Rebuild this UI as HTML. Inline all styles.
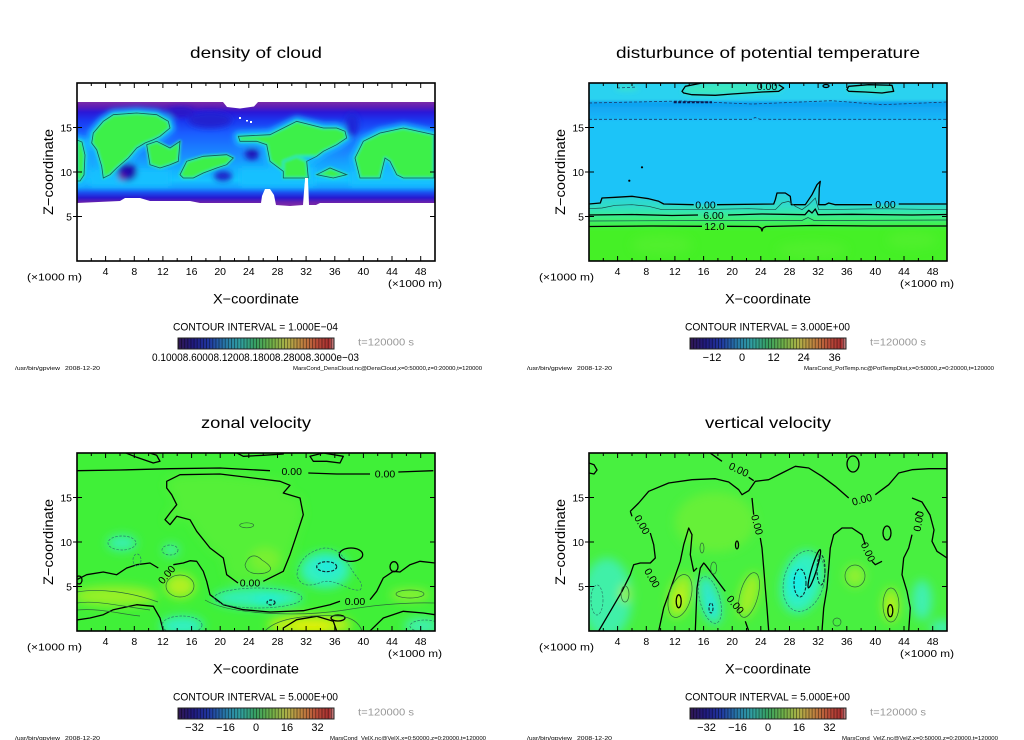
<!DOCTYPE html>
<html><head><meta charset="utf-8">
<style>
html,body{margin:0;padding:0;background:#fff;}
svg{display:block;}
text{font-family:"Liberation Sans",sans-serif;fill:#000;}
</style></head><body>
<svg width="1024" height="740" viewBox="0 0 1024 740" xmlns="http://www.w3.org/2000/svg">
<defs>
 <clipPath id="pc"><rect x="77" y="83" width="358" height="178"/></clipPath>
 <clipPath id="bandclip"><path d="M77,102 H223 L227,107 L240,108.5 L254,106.5 L258,102 H435 V203 H320 L316,205 H309 L308,178 L305,178 L303,205 L290,206 L276,205 L274,195 L270,189 L265,189 L262,196 L261,203 H200 L190,201 L150,201 L140,198 L125,198 L120,201 L77,203 Z"/></clipPath>
 <filter id="b1" filterUnits="userSpaceOnUse" x="-100" y="-100" width="700" height="500"><feGaussianBlur stdDeviation="1.2"/></filter>
 <filter id="b3" filterUnits="userSpaceOnUse" x="-100" y="-100" width="700" height="500"><feGaussianBlur stdDeviation="3"/></filter>
 <filter id="b5" filterUnits="userSpaceOnUse" x="-100" y="-100" width="700" height="500"><feGaussianBlur stdDeviation="5"/></filter>
 <filter id="b7" filterUnits="userSpaceOnUse" x="-100" y="-100" width="700" height="500"><feGaussianBlur stdDeviation="7"/></filter>
 <linearGradient id="band" gradientUnits="userSpaceOnUse" x1="0" y1="102" x2="0" y2="205">
  <stop offset="0" stop-color="#7a2aa8"/>
  <stop offset="0.05" stop-color="#5a1cb8"/>
  <stop offset="0.1" stop-color="#2a18d8"/>
  <stop offset="0.18" stop-color="#1a38f0"/>
  <stop offset="0.3" stop-color="#1a5cff"/>
  <stop offset="0.5" stop-color="#1a88ff"/>
  <stop offset="0.62" stop-color="#14a8ff"/>
  <stop offset="0.76" stop-color="#16c4ff"/>
  <stop offset="0.83" stop-color="#14a0ff"/>
  <stop offset="0.88" stop-color="#1a50f0"/>
  <stop offset="0.93" stop-color="#2818d0"/>
  <stop offset="0.97" stop-color="#6420b0"/>
  <stop offset="1" stop-color="#7a2aa8"/>
 </linearGradient>
 <linearGradient id="trband" gradientUnits="userSpaceOnUse" x1="0" y1="101" x2="0" y2="120">
  <stop offset="0" stop-color="#0e9ef0"/>
  <stop offset="1" stop-color="#1ab8f8"/>
 </linearGradient>
 <linearGradient id="trlow" gradientUnits="userSpaceOnUse" x1="0" y1="193" x2="0" y2="230">
  <stop offset="0" stop-color="#28d0e0"/>
  <stop offset="0.35" stop-color="#30dcc8"/>
  <stop offset="0.5" stop-color="#34e6b0"/>
  <stop offset="0.65" stop-color="#3cee88"/>
  <stop offset="0.85" stop-color="#40f050"/>
  <stop offset="1" stop-color="#44f028"/>
 </linearGradient>
 <linearGradient id="cbg" x1="0" x2="1" y1="0" y2="0">
  <stop offset="0" stop-color="#301850"/>
  <stop offset="0.1" stop-color="#201a80"/>
  <stop offset="0.2" stop-color="#2038a0"/>
  <stop offset="0.3" stop-color="#2878a8"/>
  <stop offset="0.4" stop-color="#30a0a0"/>
  <stop offset="0.5" stop-color="#38a060"/>
  <stop offset="0.6" stop-color="#70b048"/>
  <stop offset="0.7" stop-color="#b0b048"/>
  <stop offset="0.8" stop-color="#c08040"/>
  <stop offset="0.9" stop-color="#b84838"/>
  <stop offset="0.97" stop-color="#a83030"/>
  <stop offset="1" stop-color="#c89090"/>
 </linearGradient>
 <pattern id="stp" x="178" y="0" width="3.12" height="20" patternUnits="userSpaceOnUse">
  <rect x="0" y="0" width="0.9" height="20" fill="#000" opacity="0.45"/>
 </pattern>
 <g id="frame" fill="none" stroke="#000">
  <rect x="77" y="83" width="358" height="178" stroke-width="1.6"/>
  <path stroke-width="1" d="M105.6,261v-5M134.3,261v-5M162.9,261v-5M191.6,261v-5M220.2,261v-5M248.8,261v-5M277.5,261v-5M306.1,261v-5M334.8,261v-5M363.4,261v-5M392,261v-5M420.7,261v-5
  M105.6,83v5M134.3,83v5M162.9,83v5M191.6,83v5M220.2,83v5M248.8,83v5M277.5,83v5M306.1,83v5M334.8,83v5M363.4,83v5M392,83v5M420.7,83v5
  M91.3,261v-3M120,261v-3M148.6,261v-3M177.2,261v-3M205.9,261v-3M234.5,261v-3M263.2,261v-3M291.8,261v-3M320.4,261v-3M349.1,261v-3M377.7,261v-3M406.4,261v-3
  M91.3,83v3M120,83v3M148.6,83v3M177.2,83v3M205.9,83v3M234.5,83v3M263.2,83v3M291.8,83v3M320.4,83v3M349.1,83v3M377.7,83v3M406.4,83v3
  M73,216.5h9M73,172h9M73,127.5h9M435,216.5h-5M435,172h-5M435,127.5h-5"/>
 </g>
 <g id="cb">
  <rect x="178" y="338" width="156" height="11" fill="url(#cbg)"/>
  <rect x="178" y="338" width="156" height="11" fill="url(#stp)"/>
  <rect x="178" y="338" width="156" height="11" fill="none" stroke="#222" stroke-width="1"/>
 </g>
</defs>

<rect width="1024" height="740" fill="#fff"/>

<!-- ================= TOP LEFT: density of cloud ================= -->
<g>
 <g clip-path="url(#pc)">
  <rect x="77" y="83" width="358" height="178" fill="#fff"/>
  <path d="M77,102 H223 L227,107 L240,108.5 L254,106.5 L258,102 H435 V203 H320 L316,205 H309 L308,178 L305,178 L303,205 L290,206 L276,205 L274,195 L270,189 L265,189 L262,196 L261,203 H200 L190,201 L150,201 L140,198 L125,198 L120,201 L77,203 Z" fill="url(#band)"/>
  <g clip-path="url(#bandclip)">
   <g filter="url(#b3)">
    <g fill="#18b8ff" stroke="#18b8ff" stroke-width="10" stroke-linejoin="round">
     <polygon points="77,140 82,142 85,155 84,175 80,181 77,181"/>
     <polygon points="91.7,143 93.3,133 103.3,121.3 113.3,114.7 136.7,113 156.7,114.7 168.3,121.3 170,128 160,136.3 153.3,139.7 145,143 136.7,148 128.3,158 116.7,168 110,174.7 103.3,178 101.7,166.3 96.7,149.7"/>
     <polygon points="238.3,136.3 270,134.7 296.7,121.3 323.3,128 336.7,128 345,131.3 346.7,138 336.7,144.7 323.3,151.3 316.7,156.3 306.7,161.3 308.3,178 283.3,178 283.3,171.3 270,161.3 266.7,144.7 256.7,141.3 240,141.3"/>
     <polygon points="355,158 363.3,141.3 380,133 403.3,128 434,134.7 434,178 403.3,178 396.7,174.7 390,161.3 385,158 380,178 360,178"/>
    </g>
    <rect x="90" y="170" width="80" height="16" fill="#16c0ff"/>
    <rect x="240" y="168" width="75" height="18" fill="#16c0ff"/>
    <rect x="350" y="172" width="85" height="14" fill="#16c0ff"/>
    <ellipse cx="127" cy="172" rx="10" ry="9" fill="#1a10b0"/>
    <ellipse cx="122" cy="177" rx="3.5" ry="3.5" fill="#7020a0"/>
    <ellipse cx="252" cy="154" rx="7" ry="6" fill="#1a14b8"/>
    <ellipse cx="223" cy="176" rx="9" ry="5" fill="#1a20c8"/>
    <ellipse cx="210" cy="120" rx="22" ry="8" fill="#2020d0"/>
    <ellipse cx="352" cy="125" rx="7" ry="12" fill="#1a28d8"/>
    <ellipse cx="180" cy="112" rx="14" ry="5" fill="#2a18c8"/>
   </g>
   <g filter="url(#b1)" fill="#3cf048" stroke="#2ae6b8" stroke-width="2.5" stroke-linejoin="round">
    <polygon points="77,140 82,142 85,155 84,175 80,181 77,181"/>
    <polygon points="91.7,143 93.3,133 103.3,121.3 113.3,114.7 136.7,113 156.7,114.7 168.3,121.3 170,128 160,136.3 153.3,139.7 145,143 136.7,148 128.3,158 116.7,168 110,174.7 103.3,178 101.7,166.3 96.7,149.7"/>
    <polygon points="146.7,144.7 156.7,141.3 170,148 180,141.3 178.3,161.3 170,164.7 160,168 150,164.7 148.3,154.7"/>
    <polygon points="180,174.7 186.7,161.3 203.3,156.3 226.7,154.7 233.3,158 226.7,164.7 216.7,168 203.3,173 193.3,178 183.3,178"/>
    <polygon points="238.3,136.3 270,134.7 296.7,121.3 323.3,128 336.7,128 345,131.3 346.7,138 336.7,144.7 323.3,151.3 316.7,156.3 300,156.3 290,161.3 283.3,171.3 270,161.3 266.7,144.7 256.7,141.3 240,141.3"/>
    <polygon points="283.3,161.3 296.7,156.3 306.7,161.3 308.3,178 283.3,178"/>
    <polygon points="316.7,174.7 330,168 346.7,174.7 333.3,178"/>
    <polygon points="355,158 363.3,141.3 380,133 403.3,128 434,134.7 434,178 403.3,178 396.7,174.7 390,161.3 385,158 380,178 360,178"/>
   </g>
   <g fill="none" stroke="#145a5a" stroke-width="0.8">
    <polygon points="77,140 82,142 85,155 84,175 80,181 77,181"/>
    <polygon points="91.7,143 93.3,133 103.3,121.3 113.3,114.7 136.7,113 156.7,114.7 168.3,121.3 170,128 160,136.3 153.3,139.7 145,143 136.7,148 128.3,158 116.7,168 110,174.7 103.3,178 101.7,166.3 96.7,149.7"/>
    <polygon points="146.7,144.7 156.7,141.3 170,148 180,141.3 178.3,161.3 170,164.7 160,168 150,164.7 148.3,154.7"/>
    <polygon points="180,174.7 186.7,161.3 203.3,156.3 226.7,154.7 233.3,158 226.7,164.7 216.7,168 203.3,173 193.3,178 183.3,178"/>
    <polygon points="238.3,136.3 270,134.7 296.7,121.3 323.3,128 336.7,128 345,131.3 346.7,138 336.7,144.7 323.3,151.3 316.7,156.3 306.7,161.3 308.3,178 283.3,178 283.3,171.3 270,161.3 266.7,144.7 256.7,141.3 240,141.3"/>
    <polygon points="316.7,174.7 330,168 346.7,174.7 333.3,178"/>
    <polygon points="355,158 363.3,141.3 380,133 403.3,128 434,134.7 434,178 403.3,178 396.7,174.7 390,161.3 385,158 380,178 360,178"/>
   </g>
   <g fill="#fff"><rect x="239" y="117" width="2" height="2"/><rect x="246" y="120" width="2" height="1.5"/><rect x="250" y="121" width="2" height="2"/></g>
  </g>
 </g>
 <use href="#frame"/>
 <text x="256" y="58" font-size="16" text-anchor="middle" textLength="132" lengthAdjust="spacingAndGlyphs">density of cloud</text>
 <g font-size="10.5" text-anchor="middle">
  <text x="105.6" y="275">4</text><text x="134.3" y="275">8</text><text x="162.9" y="275">12</text><text x="191.6" y="275">16</text><text x="220.2" y="275">20</text><text x="248.8" y="275">24</text><text x="277.5" y="275">28</text><text x="306.1" y="275">32</text><text x="334.8" y="275">36</text><text x="363.4" y="275">40</text><text x="392" y="275">44</text><text x="420.7" y="275">48</text>
 </g>
 <g font-size="10.5" text-anchor="end">
  <text x="72" y="131.5">15</text><text x="72" y="176">10</text><text x="72" y="220.5">5</text>
 </g>
 <text x="27" y="280.5" font-size="10.5" textLength="55" lengthAdjust="spacingAndGlyphs">(×1000 m)</text>
 <text x="388" y="287" font-size="10.5" textLength="54" lengthAdjust="spacingAndGlyphs">(×1000 m)</text>
 <text x="256" y="303.5" font-size="13.5" text-anchor="middle" textLength="86" lengthAdjust="spacingAndGlyphs">X−coordinate</text>
 <text transform="translate(53,172) rotate(-90)" font-size="13.5" text-anchor="middle" textLength="86" lengthAdjust="spacingAndGlyphs">Z−coordinate</text>
 <text x="173" y="330.5" font-size="11" textLength="165" lengthAdjust="spacingAndGlyphs">CONTOUR INTERVAL = 1.000E−04</text>
 <use href="#cb"/>
 <text x="358" y="345.5" font-size="10.5" fill="#999" style="fill:#999" textLength="56" lengthAdjust="spacingAndGlyphs">t=120000 s</text>
 <text x="152" y="361" font-size="11" textLength="207" lengthAdjust="spacingAndGlyphs">0.10008.60008.12008.18008.28008.3000e−03</text>
 <text x="15" y="370" font-size="5.5" textLength="45" lengthAdjust="spacingAndGlyphs">/usr/bin/gpview</text>
 <text x="65" y="370" font-size="5.5" textLength="35" lengthAdjust="spacingAndGlyphs">2008-12-20</text>
 <text x="293" y="370" font-size="5.5" textLength="189" lengthAdjust="spacingAndGlyphs">MarsCond_DensCloud.nc@DensCloud,x=0:50000,z=0:20000,t=120000</text>
</g>

<!-- ================= TOP RIGHT: potential temperature ================= -->
<g transform="translate(512,0)">
 <g clip-path="url(#pc)">
  <g filter="url(#b1)">
   <rect x="70" y="80" width="370" height="185" fill="#1ec4f8"/>
   <rect x="70" y="80" width="370" height="22" fill="#2cd2f0"/>
   <rect x="70" y="101" width="370" height="19" fill="url(#trband)"/>
  </g>
  <g filter="url(#b3)">
   <polygon points="170,91.3 173.3,86.3 190,83 220,82 243.3,83 266.7,84.7 271.7,88 266.7,91.3 250,92 220,94 203.3,95.3 180,94.7 171.7,93" fill="#3ae8c0"/>
   <polygon points="335,89.7 336.7,86.3 356.7,84.7 380,85.3 381.7,91.3 370,93 353.3,92 336.7,91.3" fill="#3ae8c0"/>
   <ellipse cx="115" cy="88" rx="12" ry="3" fill="#38e0d0"/>
  </g>
  <path filter="url(#b1)" d="M70,204 L88.3,203 L90,198 L103.3,197.3 L120,196.3 L136.7,198.7 L146.7,201.3 L151.7,204 L261.7,204 L263.3,199.7 L265,193 L273.3,193 L278.3,196.3 L279.3,204.7 L293.3,204.7 L300,194.7 L305,184.7 L308.3,181.3 L307.3,188 L306.7,204.7 L313.3,204.7 L316.7,203 L323.3,204.7 L440,204 L440,265 L70,265 Z" fill="url(#trlow)"/>
  <g filter="url(#b5)" opacity="0.6">
   <ellipse cx="150" cy="245" rx="30" ry="10" fill="#58f030"/>
   <ellipse cx="300" cy="250" rx="35" ry="8" fill="#58f030"/>
   <ellipse cx="400" cy="240" rx="25" ry="8" fill="#58f030"/>
  </g>
  <g fill="none" stroke="#000" stroke-width="1.3" stroke-linejoin="round">
   <polyline points="243.3,83 220,82 190,83 173.3,86.3 170,91.3 171.7,93 180,94.7 203.3,95.3 220,94 250,92 266.7,91.3 271.7,88 266.7,84.7"/>
   <polygon points="335,89.7 336.7,86.3 356.7,84.7 380,85.3 381.7,91.3 370,93 353.3,92 336.7,91.3"/>
   <ellipse cx="314" cy="86" rx="3" ry="1.5"/>
   <polyline points="76.7,204 88.3,203 90,198 103.3,197.3 120,196.3 136.7,198.7 146.7,201.3 151.7,204 181.7,204.7"/>
   <polyline points="205,204.7 261.7,204 263.3,199.7 265,193 273.3,193 278.3,196.3 279.3,204.7 293.3,204.7 300,194.7 305,184.7 308.3,181.3 307.3,188 306.7,204.7 313.3,204.7 316.7,203 323.3,204.7 360,204.7"/>
   <polyline points="386.7,204 435,204"/>
   <path d="M77,215 L120,214.5 L160,215.5 L186,215 M216,215 L250,214 L293,214.7 L296.7,210.3 L300,213 L303.3,209 L306,214.7 L340,214.3 L400,215 L435,214.5"/>
   <path d="M77,226.5 L140,226 L190,226.3 M215,226.3 L246,226.5 L249,228 L250,231 L251,228 L254,226.5 L300,225.5 L360,226 L435,226"/>
  </g>
  <g fill="none" stroke="#1a4a4a" stroke-width="0.7">
   <polyline points="76.7,208.7 90,208 103.3,205.3 120,204.7 136.7,206.3 150,209.7 180,209.7 236.7,208.7 263.3,209.7 270,203 276.7,201.3 283.3,206.3 290,209.7 296.7,204.7 303.3,198 306.7,209.7 370,208.7 435,209.7"/>
   <path d="M77,221 L200,220.5 L290,220.5 L296,217.5 L302,220.5 L435,220"/>
  </g>
  <g fill="none" stroke="#1a3a6a" stroke-width="0.8" stroke-dasharray="3,2">
   <path d="M77,103 L170,101 L240,104 L320,100.7 L370,104.7 L435,102"/>
   <path d="M77,119.3 L240,119.3 L243,117.5 L248,119.3 L435,119.3"/>
   <path d="M105,88 L125,87"/>
  </g>
  <path d="M161.7,102.3 L200,102.3" stroke="#0a1850" stroke-width="2" stroke-dasharray="3,1.5" fill="none"/>
  <circle cx="130" cy="167.3" r="1.1" fill="#000"/>
  <circle cx="117.3" cy="180.7" r="1.1" fill="#000"/>
  <g font-size="10.5" text-anchor="middle">
   <text x="193.5" y="208.5">0.00</text>
   <text x="373.5" y="208">0.00</text>
   <text x="201.5" y="219">6.00</text>
   <text x="202.5" y="230">12.0</text>
   <text x="255" y="90">0.00</text>
  </g>
 </g>
 <use href="#frame"/>
 <text x="256" y="58" font-size="16" text-anchor="middle" textLength="304" lengthAdjust="spacingAndGlyphs">disturbunce of potential temperature</text>
 <g font-size="10.5" text-anchor="middle">
  <text x="105.6" y="275">4</text><text x="134.3" y="275">8</text><text x="162.9" y="275">12</text><text x="191.6" y="275">16</text><text x="220.2" y="275">20</text><text x="248.8" y="275">24</text><text x="277.5" y="275">28</text><text x="306.1" y="275">32</text><text x="334.8" y="275">36</text><text x="363.4" y="275">40</text><text x="392" y="275">44</text><text x="420.7" y="275">48</text>
 </g>
 <g font-size="10.5" text-anchor="end">
  <text x="72" y="131.5">15</text><text x="72" y="176">10</text><text x="72" y="220.5">5</text>
 </g>
 <text x="27" y="280.5" font-size="10.5" textLength="55" lengthAdjust="spacingAndGlyphs">(×1000 m)</text>
 <text x="388" y="287" font-size="10.5" textLength="54" lengthAdjust="spacingAndGlyphs">(×1000 m)</text>
 <text x="256" y="303.5" font-size="13.5" text-anchor="middle" textLength="86" lengthAdjust="spacingAndGlyphs">X−coordinate</text>
 <text transform="translate(53,172) rotate(-90)" font-size="13.5" text-anchor="middle" textLength="86" lengthAdjust="spacingAndGlyphs">Z−coordinate</text>
 <text x="173" y="330.5" font-size="11" textLength="165" lengthAdjust="spacingAndGlyphs">CONTOUR INTERVAL = 3.000E+00</text>
 <use href="#cb"/>
 <text x="358" y="345.5" font-size="10.5" style="fill:#999" textLength="56" lengthAdjust="spacingAndGlyphs">t=120000 s</text>
 <g font-size="11" text-anchor="middle">
  <text x="200" y="361">−12</text><text x="230" y="361">0</text><text x="261.7" y="361">12</text><text x="291.7" y="361">24</text><text x="322.7" y="361">36</text>
 </g>
 <text x="15" y="370" font-size="5.5" textLength="45" lengthAdjust="spacingAndGlyphs">/usr/bin/gpview</text>
 <text x="65" y="370" font-size="5.5" textLength="35" lengthAdjust="spacingAndGlyphs">2008-12-20</text>
 <text x="292" y="370" font-size="5.5" textLength="190" lengthAdjust="spacingAndGlyphs">MarsCond_PotTemp.nc@PotTempDist,x=0:50000,z=0:20000,t=120000</text>
</g>

<!-- ================= BOTTOM LEFT: zonal velocity ================= -->
<g transform="translate(0,370)">
 <g clip-path="url(#pc)">
  <rect x="70" y="80" width="370" height="185" fill="#40f038"/>
  <g filter="url(#b5)">
   <polygon points="166.7,111.3 180,104.7 220,104 280,111.3 290,115.3 283.3,123 300,128 303.3,144.7 296.7,164.7 290,184.7 283.3,201.3 263.3,211.3 236.7,213 226.7,204.7 223.3,188 210,178 196.7,161.3 190,149.7 176.7,146.3 170,154.7 165,149.7 170,143 176.7,134.7 171.7,124.7 166.7,118" fill="#54f038"/>
   <ellipse cx="122" cy="173" rx="15" ry="8" fill="#38f0b0"/>
   <ellipse cx="171" cy="180" rx="8" ry="6" fill="#40f0b0"/>
   <ellipse cx="258" cy="228" rx="45" ry="10" fill="#30f0b8"/>
   <ellipse cx="268" cy="230" rx="15" ry="5" fill="#22eed8"/>
   <ellipse cx="325" cy="200" rx="25" ry="18" fill="#30f0c0"/>
   <ellipse cx="327" cy="196" rx="10" ry="6" fill="#18e8e4"/>
   <ellipse cx="182" cy="256" rx="22" ry="10" fill="#30f0c0"/>
   <ellipse cx="422" cy="256" rx="18" ry="8" fill="#40f0b0"/>
   <ellipse cx="115" cy="226" rx="42" ry="10" fill="#98f028"/>
   <ellipse cx="180" cy="216" rx="15" ry="12" fill="#b0f020"/>
   <ellipse cx="310" cy="255" rx="42" ry="10" fill="#c0f018"/>
   <ellipse cx="312" cy="258" rx="20" ry="6" fill="#e4f000"/>
   <ellipse cx="265" cy="190" rx="15" ry="12" fill="#78f030"/>
   <ellipse cx="410" cy="225" rx="20" ry="6" fill="#90f030"/>
  </g>
  <g fill="none" stroke="#000" stroke-width="1.3" stroke-linejoin="round">
   <polyline points="76.7,100.7 120,100 170,98.7 220,98 270,100.7"/>
   <polyline points="308.3,103 336.7,104 370,104"/>
   <polyline points="398.3,102 433.3,100.7"/>
   <polyline points="123.3,82 136.7,87.3 153.3,93 160,91.3 156.7,85.3 146.7,82"/>
   <polyline points="235,82 243.3,86.3 263.3,85.3 283.3,84 283.3,82"/>
   <polygon points="310,86.3 323.3,83 343.3,86.3 340,93 326.7,91.3 313.3,91.3"/>
   <polyline points="263.3,211.3 283.3,201.3 290,184.7 296.7,164.7 303.3,144.7 300,128 283.3,123 290,115.3 280,111.3 220,104 180,104.7 166.7,111.3 166.7,118 171.7,124.7 176.7,134.7 170,143 165,149.7 170,154.7 176.7,146.3 190,149.7 196.7,161.3 210,178 223.3,188 226.7,204.7 238,213"/>
   <polyline points="76.7,209.7 86.7,204.7 103.3,202 116.7,204.7 126.7,198 136.7,194.7 150,193 158.3,198"/>
   <polyline points="173.3,194.7 183.3,193 190,190.7 196.7,191.3 203.3,201.3 206.7,211.3 210,224.7 223.3,234.7 243.3,239.7 270,242 303.3,240.7 330,234.7 340,231.3"/>
   <polyline points="370,229.7 376.7,221.3 383.3,208 393.3,201.3 400,202 410,194.7 420,191.3 435,193"/>
   <polyline points="76.7,250 90,248 103.3,244.7 113.3,239.7 136.7,234.7 153.3,236.3 160,248 163.3,261"/>
   <polyline points="283.3,261 283.3,258 296.7,249.7 316.7,246.3 333.3,251.3 336.7,261"/>
   <ellipse cx="338" cy="248" rx="7" ry="3"/>
   <polyline points="370,261 383.3,248 403.3,241.3 423.3,243 435,244.7"/>
   <ellipse cx="351" cy="184.7" rx="11.7" ry="6.7"/>
   <ellipse cx="394" cy="196.7" rx="4" ry="5"/>
   <ellipse cx="79" cy="210" rx="3" ry="4"/>
  </g>
  <g fill="none" stroke="#102830" stroke-width="1.2" stroke-dasharray="3,1.5">
   <ellipse cx="326.7" cy="196.7" rx="10" ry="5"/>
   <ellipse cx="271" cy="232.5" rx="4" ry="2.5"/>
  </g>
  <g fill="none" stroke="#2a6a3a" stroke-width="0.7">
   <path d="M77,222 C100,218 130,222 158,232"/>
   <path d="M77,233 C95,230 120,236 150,240"/>
   <path d="M77,240 C100,238 120,244 140,246"/>
   <ellipse cx="180" cy="216" rx="14" ry="11"/>
   <path d="M265,261 C275,250 300,244 340,246 C355,248 360,255 362,261"/>
   <path d="M205,230 C230,245 300,247 345,240 C370,236 400,232 435,233"/>
   <ellipse cx="410" cy="224" rx="14" ry="4"/>
   <ellipse cx="246.7" cy="155.3" rx="7" ry="2.5"/>
   <path d="M245,195 C248,185 255,183 262,190 C270,195 275,200 265,203 C255,205 246,203 245,195 Z"/>
  </g>
  <g fill="none" stroke="#2a7a6a" stroke-width="0.7" stroke-dasharray="2.5,1.5">
   <ellipse cx="122" cy="173" rx="14" ry="7"/>
   <ellipse cx="170" cy="180" rx="8" ry="5"/>
   <ellipse cx="137" cy="190" rx="4" ry="6"/>
   <ellipse cx="258" cy="228" rx="44" ry="10"/>
   <path d="M297,205 C298,190 310,180 325,178 C340,178 345,190 352,200 C358,210 365,214 360,220 C350,222 335,208 322,212 C312,216 300,218 297,205 Z"/>
   <ellipse cx="182" cy="255" rx="20" ry="9"/>
   <ellipse cx="425" cy="256" rx="15" ry="6"/>
  </g>
  <g font-size="10.5" text-anchor="middle">
   <text x="291.7" y="105">0.00</text>
   <text x="385" y="107.5">0.00</text>
   <text x="250" y="216.5">0.00</text>
   <text x="355" y="235">0.00</text>
   <text transform="translate(166.7,204.7) rotate(-50)" y="3.5">0.00</text>
  </g>
 </g>
 <use href="#frame"/>
 <text x="256" y="58" font-size="16" text-anchor="middle" textLength="110" lengthAdjust="spacingAndGlyphs">zonal velocity</text>
 <g font-size="10.5" text-anchor="middle">
  <text x="105.6" y="275">4</text><text x="134.3" y="275">8</text><text x="162.9" y="275">12</text><text x="191.6" y="275">16</text><text x="220.2" y="275">20</text><text x="248.8" y="275">24</text><text x="277.5" y="275">28</text><text x="306.1" y="275">32</text><text x="334.8" y="275">36</text><text x="363.4" y="275">40</text><text x="392" y="275">44</text><text x="420.7" y="275">48</text>
 </g>
 <g font-size="10.5" text-anchor="end">
  <text x="72" y="131.5">15</text><text x="72" y="176">10</text><text x="72" y="220.5">5</text>
 </g>
 <text x="27" y="280.5" font-size="10.5" textLength="55" lengthAdjust="spacingAndGlyphs">(×1000 m)</text>
 <text x="388" y="287" font-size="10.5" textLength="54" lengthAdjust="spacingAndGlyphs">(×1000 m)</text>
 <text x="256" y="303.5" font-size="13.5" text-anchor="middle" textLength="86" lengthAdjust="spacingAndGlyphs">X−coordinate</text>
 <text transform="translate(53,172) rotate(-90)" font-size="13.5" text-anchor="middle" textLength="86" lengthAdjust="spacingAndGlyphs">Z−coordinate</text>
 <text x="173" y="330.5" font-size="11" textLength="165" lengthAdjust="spacingAndGlyphs">CONTOUR INTERVAL = 5.000E+00</text>
 <use href="#cb"/>
 <text x="358" y="345.5" font-size="10.5" style="fill:#999" textLength="56" lengthAdjust="spacingAndGlyphs">t=120000 s</text>
 <g font-size="11" text-anchor="middle">
  <text x="194.5" y="361">−32</text><text x="225.5" y="361">−16</text><text x="256" y="361">0</text><text x="287" y="361">16</text><text x="317.5" y="361">32</text>
 </g>
 <text x="15" y="370" font-size="5.5" textLength="45" lengthAdjust="spacingAndGlyphs">/usr/bin/gpview</text>
 <text x="65" y="370" font-size="5.5" textLength="35" lengthAdjust="spacingAndGlyphs">2008-12-20</text>
 <text x="330" y="370" font-size="5.5" textLength="156" lengthAdjust="spacingAndGlyphs">MarsCond_VelX.nc@VelX,x=0:50000,z=0:20000,t=120000</text>
</g>

<!-- ================= BOTTOM RIGHT: vertical velocity ================= -->
<g transform="translate(512,370)">
 <g clip-path="url(#pc)">
  <rect x="70" y="80" width="370" height="185" fill="#48f040"/>
  <g filter="url(#b5)">
   <ellipse cx="203" cy="152" rx="40" ry="30" fill="#66f038"/>
   <ellipse cx="95" cy="228" rx="25" ry="40" fill="#40f0a8"/>
   <ellipse cx="113" cy="224" rx="5" ry="9" fill="#a0f028"/>
   <ellipse cx="168" cy="226" rx="11" ry="22" transform="rotate(15 168 226)" fill="#a0f028"/>
   <ellipse cx="167" cy="230" rx="5" ry="10" fill="#c8f018"/>
   <ellipse cx="198" cy="230" rx="10" ry="25" transform="rotate(-15 198 230)" fill="#30e8c8"/>
   <ellipse cx="199" cy="238" rx="5" ry="10" fill="#20e8e0"/>
   <ellipse cx="237" cy="225" rx="9" ry="23" transform="rotate(15 237 225)" fill="#a0f028"/>
   <ellipse cx="290" cy="212" rx="20" ry="32" transform="rotate(15 290 212)" fill="#30f0c0"/>
   <ellipse cx="285" cy="212" rx="8" ry="14" fill="#18eee8"/>
   <ellipse cx="343" cy="206" rx="10" ry="11" fill="#90f030"/>
   <ellipse cx="379" cy="235" rx="8" ry="17" fill="#a8f020"/>
   <ellipse cx="379" cy="240" rx="4" ry="7" fill="#c8f018"/>
   <ellipse cx="410" cy="230" rx="10" ry="20" fill="#40f0b0"/>
   <ellipse cx="430" cy="258" rx="12" ry="8" fill="#40f0b0"/>
  </g>
  <g fill="none" stroke="#000" stroke-width="1.3" stroke-linejoin="round">
   <polyline points="77,93 82,94.7 85,100 82,104 77,103"/>
   <polyline points="118.3,141.3 126.7,133 136.7,121.3 156.7,113 180,109.7 203.3,108.7 216.7,112 226.7,119.7 230,124.7 236.7,120.7 243.3,111.3 256.7,109.7 270,103 283.3,96.3 296.7,98 310,106.3 323.3,116.3 336.7,128"/>
   <polyline points="363.3,124.7 376.7,114.7 386.7,103 400,99.7 416.7,98.7 435,98.7"/>
   <polyline points="196.7,82 210,91.3"/>
   <polyline points="236.7,107.3 241.7,110.7"/>
   <polyline points="118.3,141.3 120,146.3"/>
   <polyline points="138.3,163 141.7,174.7 143.3,188 138.3,193 128.3,193 121.7,194.7 118.3,204.7 110,221.3 98.3,241.3 86.7,261"/>
   <polyline points="146.7,261 151.7,238 160,214.7 168.3,191.3 171.7,174.7 176.7,158 180,164.7 178.3,184.7 181.7,201.3 185,198"/>
   <polyline points="183.3,261 185,218 188.3,198 191.7,193 193.3,194.7 203.3,208 213.3,221.3"/>
   <polyline points="233.3,251.3 236.7,261"/>
   <polyline points="240,128 241.7,144.7"/>
   <polyline points="248.3,168 250,178 251.7,198 253.3,218 255,238 256.7,261"/>
   <polyline points="310,261 311.7,238 315,218 316.7,198 318.3,178 321.7,164.7 330,158 340,158 350,164.7 353.3,174.7"/>
   <polyline points="360,191.3 363.3,194.7 370,191.3"/>
   <polyline points="406.7,141.3 403.3,144.7"/>
   <polyline points="400,164.7 396.7,178 391.7,188 390,204.7 395,221.3 398.3,238 396.7,261"/>
   <polyline points="435,188 425,181.3 420,171.3 422,160 418,145 410,132 400,128"/>
   <ellipse cx="166.7" cy="231.3" rx="2.5" ry="6.5"/>
   <ellipse cx="378.3" cy="240.7" rx="2.5" ry="6"/>
   <ellipse cx="302.3" cy="198.7" rx="2.5" ry="20" transform="rotate(17 302.3 198.7)"/>
   <ellipse cx="375" cy="163" rx="4" ry="7"/>
   <ellipse cx="225" cy="175" rx="1.5" ry="4"/>
   <ellipse cx="341" cy="94" rx="6" ry="8"/>
  </g>
  <g fill="none" stroke="#2a6a3a" stroke-width="0.7">
   <ellipse cx="168" cy="226" rx="11" ry="22" transform="rotate(15 168 226)"/>
   <ellipse cx="237" cy="225" rx="9" ry="23" transform="rotate(15 237 225)"/>
   <ellipse cx="113" cy="224" rx="4" ry="8"/>
   <ellipse cx="343" cy="206" rx="10" ry="11"/>
   <ellipse cx="379" cy="235" rx="8" ry="17"/>
   <ellipse cx="201.7" cy="198" rx="3" ry="6"/>
   <ellipse cx="190" cy="178" rx="2" ry="5"/>
   <ellipse cx="325" cy="252" rx="4" ry="4"/>
  </g>
  <g fill="none" stroke="#2a7a6a" stroke-width="0.7" stroke-dasharray="2.5,1.5">
   <ellipse cx="198" cy="230" rx="10" ry="24" transform="rotate(-15 198 230)"/>
   <ellipse cx="292" cy="211" rx="20" ry="31" transform="rotate(15 292 211)"/>
   <ellipse cx="85" cy="230" rx="6" ry="15"/>
  </g>
  <g fill="none" stroke="#102830" stroke-width="1.1" stroke-dasharray="3,1.5">
   <ellipse cx="288" cy="213" rx="6" ry="14"/>
   <ellipse cx="199" cy="238" rx="2" ry="5"/>
   <ellipse cx="309" cy="200" rx="4" ry="15"/>
  </g>
  <g font-size="10.5" text-anchor="middle">
   <text transform="translate(226.7,99.7) rotate(25)" y="3.5">0.00</text>
   <text transform="translate(350,129.7) rotate(-15)" y="3.5">0.00</text>
   <text transform="translate(130,154.7) rotate(60)" y="3.5">0.00</text>
   <text transform="translate(140,208) rotate(60)" y="3.5">0.00</text>
   <text transform="translate(223.3,234.7) rotate(50)" y="3.5">0.00</text>
   <text transform="translate(245,154.7) rotate(75)" y="3.5">0.00</text>
   <text transform="translate(356,182) rotate(65)" y="3.5">0.00</text>
   <text transform="translate(406.7,151.3) rotate(-80)" y="3.5">0.00</text>
  </g>
 </g>
 <use href="#frame"/>
 <text x="256" y="58" font-size="16" text-anchor="middle" textLength="126" lengthAdjust="spacingAndGlyphs">vertical velocity</text>
 <g font-size="10.5" text-anchor="middle">
  <text x="105.6" y="275">4</text><text x="134.3" y="275">8</text><text x="162.9" y="275">12</text><text x="191.6" y="275">16</text><text x="220.2" y="275">20</text><text x="248.8" y="275">24</text><text x="277.5" y="275">28</text><text x="306.1" y="275">32</text><text x="334.8" y="275">36</text><text x="363.4" y="275">40</text><text x="392" y="275">44</text><text x="420.7" y="275">48</text>
 </g>
 <g font-size="10.5" text-anchor="end">
  <text x="72" y="131.5">15</text><text x="72" y="176">10</text><text x="72" y="220.5">5</text>
 </g>
 <text x="27" y="280.5" font-size="10.5" textLength="55" lengthAdjust="spacingAndGlyphs">(×1000 m)</text>
 <text x="388" y="287" font-size="10.5" textLength="54" lengthAdjust="spacingAndGlyphs">(×1000 m)</text>
 <text x="256" y="303.5" font-size="13.5" text-anchor="middle" textLength="86" lengthAdjust="spacingAndGlyphs">X−coordinate</text>
 <text transform="translate(53,172) rotate(-90)" font-size="13.5" text-anchor="middle" textLength="86" lengthAdjust="spacingAndGlyphs">Z−coordinate</text>
 <text x="173" y="330.5" font-size="11" textLength="165" lengthAdjust="spacingAndGlyphs">CONTOUR INTERVAL = 5.000E+00</text>
 <use href="#cb"/>
 <text x="358" y="345.5" font-size="10.5" style="fill:#999" textLength="56" lengthAdjust="spacingAndGlyphs">t=120000 s</text>
 <g font-size="11" text-anchor="middle">
  <text x="194.5" y="361">−32</text><text x="225.5" y="361">−16</text><text x="256" y="361">0</text><text x="287" y="361">16</text><text x="317.5" y="361">32</text>
 </g>
 <text x="15" y="370" font-size="5.5" textLength="45" lengthAdjust="spacingAndGlyphs">/usr/bin/gpview</text>
 <text x="65" y="370" font-size="5.5" textLength="35" lengthAdjust="spacingAndGlyphs">2008-12-20</text>
 <text x="330" y="370" font-size="5.5" textLength="156" lengthAdjust="spacingAndGlyphs">MarsCond_VelZ.nc@VelZ,x=0:50000,z=0:20000,t=120000</text>
</g>
</svg>
</body></html>
